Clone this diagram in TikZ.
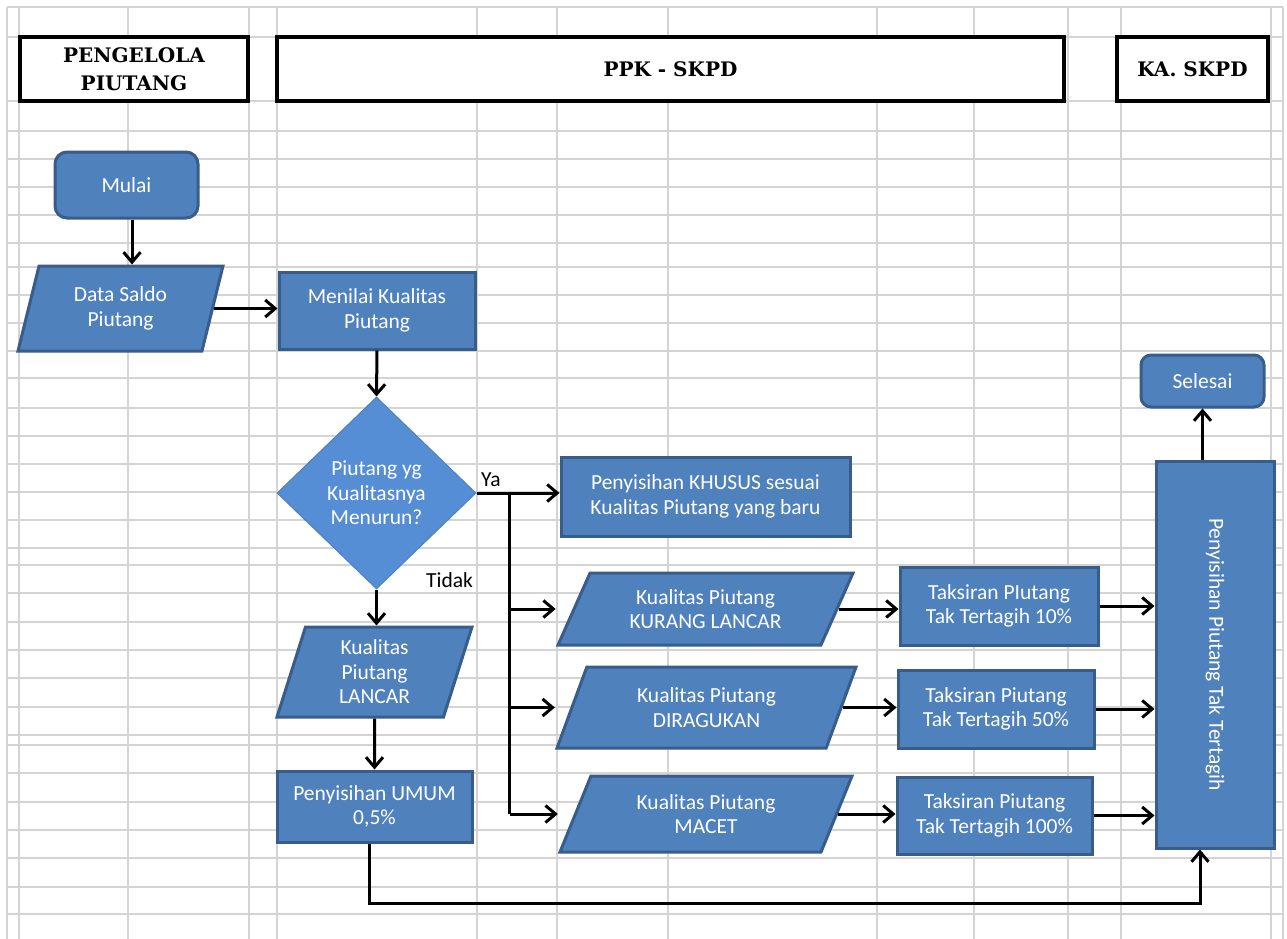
\documentclass[tikz,border=0pt]{standalone}
\usepackage{fontspec}
\setmainfont{Carlito}
\newfontfamily\hdrfont{DejaVu Serif}
\usetikzlibrary{shapes.geometric,arrows.meta}
\definecolor{boxfill}{HTML}{4F81BD}
\definecolor{boxline}{HTML}{385D8A}
\definecolor{decfill}{HTML}{558ED5}
\definecolor{gridgray}{HTML}{D4D4D4}
\tikzset{
	gridline/.style={gridgray, line width=2pt},
	hdr/.style={draw=black, fill=white, line width=3.5pt, inner sep=0pt, align=center, font=\hdrfont\bfseries\fontsize{20}{28.5}\selectfont},
	proc/.style={draw=boxline, fill=boxfill, line width=3pt, inner sep=0pt, align=center, text=white, font=\fontsize{21.5}{24.5}\selectfont},
	terminal/.style={proc, rounded corners=12pt},
	io/.style={proc, trapezium, trapezium stretches body},
	decision/.style={proc, diamond, draw=boxfill, fill=decfill, line width=1pt},
	conn/.style={line width=3pt},
	arr/.style={conn, -{Straight Barb[length=10pt,width=17pt]}},
	lbl/.style={inner sep=0pt, font=\fontsize{21.5}{24.5}\selectfont}
}
\begin{document}
\begin{tikzpicture}[x=1pt, y=-1pt]
	\fill[white] (0, 0) rectangle (1287, 939);
	\useasboundingbox (0, 0) rectangle (1287, 939);
	\foreach \x in {7, 19, 128, 249, 277, 477, 557, 668, 877, 974, 1068, 1121, 1271, 1283}
		\draw[gridline] (\x, 7) -- (\x, 939);
	\foreach \y in {7, 37, 101, 131, 159, 187, 215, 243, 267, 295, 323, 351, 378, 408, 436, 464, 492, 520, 548, 565, 593, 622, 650, 678, 707, 735, 745, 773, 802, 830, 858, 887, 914}
		\draw[gridline] (7, \y) -- (1283, \y);
	\node[hdr, minimum width=228pt, minimum height=64pt] at (134, 69) (h1) {PENGELOLA\\PIUTANG};
	\node[hdr, minimum width=787pt, minimum height=64pt] at (670.5, 69) (h2) {PPK - SKPD};
	\node[hdr, minimum width=151pt, minimum height=64pt] at (1192.5, 69) (h3) {KA. SKPD};
	\node[terminal, minimum width=143pt, minimum height=66pt] at (126.5, 185) (mulai) {Mulai};
	\node[io, trapezium left angle=64, trapezium right angle=116, minimum width=205pt, minimum height=85pt] at (120.5, 308.5) (data) {Data Saldo\\Piutang};
	\node[proc, minimum width=196pt, minimum height=77pt] at (377, 310.5) (menilai) {Menilai Kualitas\\Piutang};
	\node[decision, minimum width=199pt, minimum height=192pt] at (376.5, 493) (cek) {Piutang yg\\Kualitasnya\\Menurun?};
	\node[proc, minimum width=289pt, minimum height=79pt] at (705.5, 496.5) (khusus) {Penyisihan KHUSUS sesuai\\Kualitas Piutang yang baru};
	\node[io, trapezium left angle=66, trapezium right angle=114, minimum width=195pt, minimum height=90pt] at (374.5, 672) (lancar) {Kualitas\\Piutang\\LANCAR};
	\node[proc, minimum width=195pt, minimum height=71pt] at (374.5, 806.5) (umum) {Penyisihan UMUM\\0,5\%};
	\node[io, trapezium left angle=51, trapezium right angle=129, minimum width=295pt, minimum height=72pt] at (705.5, 609) (kurang) {Kualitas Piutang\\KURANG LANCAR};
	\node[io, trapezium left angle=53, trapezium right angle=127, minimum width=299pt, minimum height=81pt] at (706.5, 707.5) (ragu) {Kualitas Piutang\\DIRAGUKAN};
	\node[io, trapezium left angle=52, trapezium right angle=128, minimum width=292pt, minimum height=76pt] at (706, 814) (macet) {Kualitas Piutang\\MACET};
	\node[proc, minimum width=198pt, minimum height=78pt] at (999, 606) (t10) {Taksiran PIutang\\Tak Tertagih 10\%};
	\node[proc, minimum width=196pt, minimum height=78pt] at (996, 709) (t50) {Taksiran Piutang\\Tak Tertagih 50\%};
	\node[proc, minimum width=195pt, minimum height=77pt] at (994.5, 815.5) (t100) {Taksiran Piutang\\Tak Tertagih 100\%};
	\node[proc, minimum width=118pt, minimum height=387pt] at (1215, 654.5) (tak) {};
	\node[lbl, text=white, rotate=-90] at (tak.center) (taktext) {Penyisihan Piutang Tak Tertagih};
	\node[terminal, rounded corners=10pt, minimum width=123pt, minimum height=52pt] at (1202.5, 381) (selesai) {Selesai};
	\node[lbl, anchor=base west] at (481, 486) (ya) {Ya};
	\node[lbl, anchor=base west] at (426, 587) (tidak) {Tidak};
	\draw[arr] ([xshift=5.5pt]mulai.south) -- ([xshift=5.5pt]mulai.south |- data.north);
	\draw[arr] (data.east) -- (menilai.west |- data.east);
	\draw[arr] (menilai.south) -- (cek.north);
	\draw[arr] (cek.east) -- (cek.east -| khusus.west);
	\coordinate (br) at ([xshift=33pt]cek.east);
	\draw[conn] (br) -- (br |- macet.west);
	\draw[arr] (br |- kurang.west) -- (kurang.bottom left corner |- kurang.west);
	\draw[arr] (br |- ragu.west) -- (ragu.bottom left corner |- ragu.west);
	\draw[arr] (br |- macet.west) -- (macet.bottom left corner |- macet.west);
	\draw[arr] (cek.south) -- (cek.south |- lancar.north);
	\draw[arr] (lancar.south) -- (umum.north);
	\draw[arr] ([xshift=-5.5pt]umum.south) -- ++(0, 60) -| ([xshift=-15pt]tak.south);
	\draw[arr] (kurang.east) -- (t10.west |- kurang.east);
	\draw[arr] (ragu.east) -- (t50.west |- ragu.east);
	\draw[arr] (macet.east) -- (t100.west |- macet.east);
	\draw[arr] (t10.east) -- (t10.east -| tak.west);
	\draw[arr] (t50.east) -- (t50.east -| tak.west);
	\draw[arr] (t100.east) -- (t100.east -| tak.west);
	\draw[arr] (selesai.south |- tak.north) -- (selesai.south);
\end{tikzpicture}
\end{document}
